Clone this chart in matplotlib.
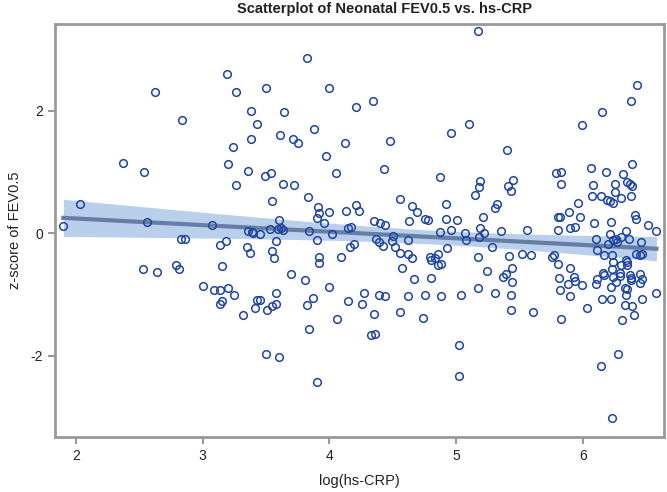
import numpy as np
import matplotlib
matplotlib.use("Agg")
from matplotlib import pyplot as plt

plt.rcParams['font.family'] = ['Liberation Sans', 'DejaVu Sans']

# log(hs-CRP) and z-score of FEV0.5
log_crp = [
    2.62, 2.84, 2.37,
    3.82, 3.19, 3.26, 3.50, 4.00, 4.21, 3.38, 3.64, 3.43, 3.88, 3.38, 3.61, 3.71, 3.75, 4.12, 3.24, 3.97,
    5.17, 4.34, 5.10, 4.96, 4.48, 5.40,
    6.43, 6.38, 6.15, 5.99,
    2.54, 2.03, 1.90, 2.56, 2.83, 2.86, 2.53, 2.64, 2.79, 2.81, 3.00,
    3.20, 3.36, 3.49, 3.54, 4.05, 3.26, 3.63, 3.72, 3.55, 3.83, 3.91, 3.92, 3.90, 4.00, 4.13, 4.21, 4.23,
    3.96, 3.07, 3.60, 3.59, 3.62, 3.63, 3.53, 3.36, 3.39, 3.40, 3.45, 3.84, 4.15, 4.17, 4.02, 3.18, 3.14,
    3.58, 3.90, 4.19, 4.16, 3.35, 3.37, 3.55, 3.56, 3.92, 3.92, 4.09, 3.15, 3.70, 3.81, 4.00, 3.09, 3.14,
    3.20, 3.25, 3.58, 3.43, 3.45, 3.87, 4.15,
    4.43, 4.87, 5.19, 5.18, 5.15, 5.41, 5.43, 5.45, 4.56, 4.92, 4.65, 4.69, 5.32, 5.31, 5.21, 4.75, 4.78,
    4.92, 5.01, 4.63, 4.35, 4.40, 4.44, 5.19, 5.22, 4.96, 4.87, 5.07, 5.35, 4.50, 5.18, 4.37, 4.39, 4.42,
    4.49, 4.62, 4.52, 4.56, 5.08, 4.93, 5.28, 4.62, 4.65, 4.86, 4.79, 4.80, 4.83, 4.86, 4.88, 5.17, 5.42,
    4.57, 5.44, 5.24, 4.67, 4.80, 5.39, 5.37, 5.44, 5.17, 4.27, 4.39, 4.44, 4.62, 4.75, 4.88, 5.04, 5.31,
    5.43,
    6.39, 6.06, 6.18, 5.79, 5.83, 6.32, 5.83, 6.08, 6.25, 6.35, 6.37, 6.39, 6.25, 6.07, 6.14, 6.19, 6.21,
    6.24, 6.30, 6.38, 5.96, 5.89, 5.80, 5.82, 5.98, 6.41, 6.42, 6.09, 6.22, 6.51, 6.58, 5.56, 5.80, 5.90,
    5.94, 6.34, 6.21, 6.10, 6.24, 6.26, 6.30, 6.36, 6.20, 6.27, 6.46, 6.11, 5.52, 5.59, 5.76, 5.77, 6.17,
    6.23, 6.42, 6.45, 6.47, 5.80, 6.24, 6.34, 6.35, 6.35, 6.30, 5.90, 6.23, 6.29, 6.16, 6.17, 6.11, 6.29,
    6.37, 6.38, 6.38, 6.45, 6.47, 5.81, 5.93, 5.94, 5.88, 5.99, 6.10, 6.24, 6.26, 6.22, 6.33, 6.35, 5.82,
    6.45, 5.90, 6.15, 6.22, 6.34, 6.47, 6.58,
    3.14, 3.15, 3.32, 3.41, 3.51, 3.55, 3.58, 3.82, 4.06, 3.84, 3.50, 3.60, 3.90,
    4.26, 4.35, 4.56, 4.74, 4.33, 4.36, 5.02, 5.02, 5.43,
    5.61, 5.83, 6.03, 6.33, 6.39, 6.31, 6.40, 6.28, 6.14, 6.23,
]
z_fev = [
    2.30, 1.85, 1.14,
    2.86, 2.59, 2.30, 2.37, 2.37, 2.06, 2.00, 1.98, 1.78, 1.70, 1.54, 1.60, 1.54, 1.47, 1.47, 1.41, 1.26,
    3.30, 2.15, 1.78, 1.63, 1.50, 1.35,
    2.41, 2.15, 1.98, 1.76,
    1.00, 0.48, 0.12, 0.18, -0.10, -0.09, -0.58, -0.63, -0.51, -0.58, -0.86,
    1.13, 1.02, 0.93, 0.98, 0.98, 0.79, 0.81, 0.78, 0.53, 0.59, 0.43, 0.33, 0.25, 0.34, 0.36, 0.46, 0.37,
    0.17, 0.14, 0.21, 0.07, 0.09, 0.05, 0.07, 0.03, 0.02, 0.00, -0.02, 0.04, 0.08, 0.10, -0.02, -0.12, -0.19,
    -0.13, -0.11, -0.17, -0.23, -0.22, -0.32, -0.29, -0.41, -0.38, -0.48, -0.39, -0.53, -0.67, -0.76, -0.88, -0.92, -0.92,
    -0.89, -1.01, -0.98, -1.08, -1.09, -1.05, -1.10,
    1.05, 0.92, 0.85, 0.76, 0.63, 0.77, 0.69, 0.86, 0.56, 0.47, 0.45, 0.34, 0.48, 0.41, 0.27, 0.24, 0.21,
    0.23, 0.22, 0.20, 0.20, 0.16, 0.14, 0.08, 0.01, 0.05, 0.02, 0.00, 0.04, -0.04, -0.06, -0.10, -0.14, -0.20,
    -0.13, -0.11, -0.23, -0.32, -0.11, -0.24, -0.23, -0.34, -0.40, -0.34, -0.38, -0.44, -0.41, -0.52, -0.50, -0.38, -0.37,
    -0.56, -0.57, -0.61, -0.75, -0.73, -0.67, -0.72, -0.80, -0.89, -0.98, -1.01, -1.03, -1.03, -1.00, -1.03, -1.01, -0.98,
    -1.01,
    1.13, 1.07, 1.00, 0.99, 1.00, 0.97, 0.80, 0.79, 0.80, 0.84, 0.81, 0.77, 0.67, 0.61, 0.60, 0.54, 0.52,
    0.49, 0.58, 0.61, 0.50, 0.35, 0.27, 0.27, 0.26, 0.30, 0.24, 0.16, 0.18, 0.14, 0.04, 0.05, 0.06, 0.08,
    0.11, 0.04, -0.01, -0.10, -0.11, -0.09, -0.06, -0.10, -0.18, -0.15, -0.15, -0.27, -0.34, -0.35, -0.39, -0.35, -0.35,
    -0.35, -0.34, -0.35, -0.33, -0.50, -0.47, -0.44, -0.47, -0.51, -0.51, -0.56, -0.59, -0.65, -0.65, -0.68, -0.74, -0.70,
    -0.68, -0.73, -0.76, -0.66, -0.75, -0.73, -0.71, -0.78, -0.83, -0.85, -0.83, -0.71, -0.79, -0.88, -0.89, -0.91, -0.92,
    -0.81, -1.02, -1.07, -1.07, -1.01, -1.07, -0.97,
    -1.16, -1.11, -1.33, -1.22, -1.25, -1.19, -1.15, -1.17, -1.40, -1.56, -1.97, -2.02, -2.42,
    -1.15, -1.31, -1.29, -1.38, -1.65, -1.64, -1.82, -2.33, -1.25,
    -1.28, -1.40, -1.22, -1.17, -1.18, -1.42, -1.33, -1.97, -2.16, -3.01,
]

x_ticks = [2, 3, 4, 5, 6]
y_ticks = [-2, 0, 2]

x = np.array(log_crp)
y = np.array(z_fev)

# linear fit with 95% confidence band of the mean
n = len(x)
b1, b0 = np.polyfit(x, y, 1)
resid = y - (b0 + b1 * x)
s = np.sqrt(np.sum(resid ** 2) / (n - 2))
xs = np.linspace(x.min(), x.max(), 100)
ys = b0 + b1 * xs
se = s * np.sqrt(1.0 / n + (xs - x.mean()) ** 2 / np.sum((x - x.mean()) ** 2))
t = 1.968

frame = "#999999"
txt = "#222222"

fig = plt.figure(figsize=(6.67, 4.92), dpi=100)
ax = fig.add_axes([55 / 667, 55 / 492, 609 / 667, 413 / 492])

ax.fill_between(xs, ys - t * se, ys + t * se, color="#b9cfeb", lw=0, zorder=1)
ax.plot(xs, ys, color="#667ea3", lw=3, zorder=2)
ax.plot(x, y, "o", ms=5.5, mfc="none", mec="#1f44a3", mew=1.1, zorder=3)

ax.set_xlim(1.834, 6.64)
ax.set_ylim(-3.32, 3.41)
ax.set_xticks(x_ticks)
ax.set_yticks(y_ticks)
ax.set_xticklabels([str(v) for v in x_ticks])
ax.set_yticklabels([str(v) for v in y_ticks])

for sp in ax.spines.values():
    sp.set_color(frame)
    sp.set_linewidth(2)
ax.tick_params(color=frame, width=1.5, length=5, labelsize=10, labelcolor=txt)

ax.set_xlabel("log(hs-CRP)", fontsize=10.5, color=txt, labelpad=8)
ax.set_ylabel("z-score of FEV0.5", fontsize=10.5, color=txt, labelpad=6)
fig.text(0.577, 1 - 9 / 492, "Scatterplot of Neonatal FEV0.5 vs. hs-CRP", fontsize=10.5,
         fontweight="bold", color=txt, ha="center", va="center")

fig.savefig("out.png", dpi=100)
